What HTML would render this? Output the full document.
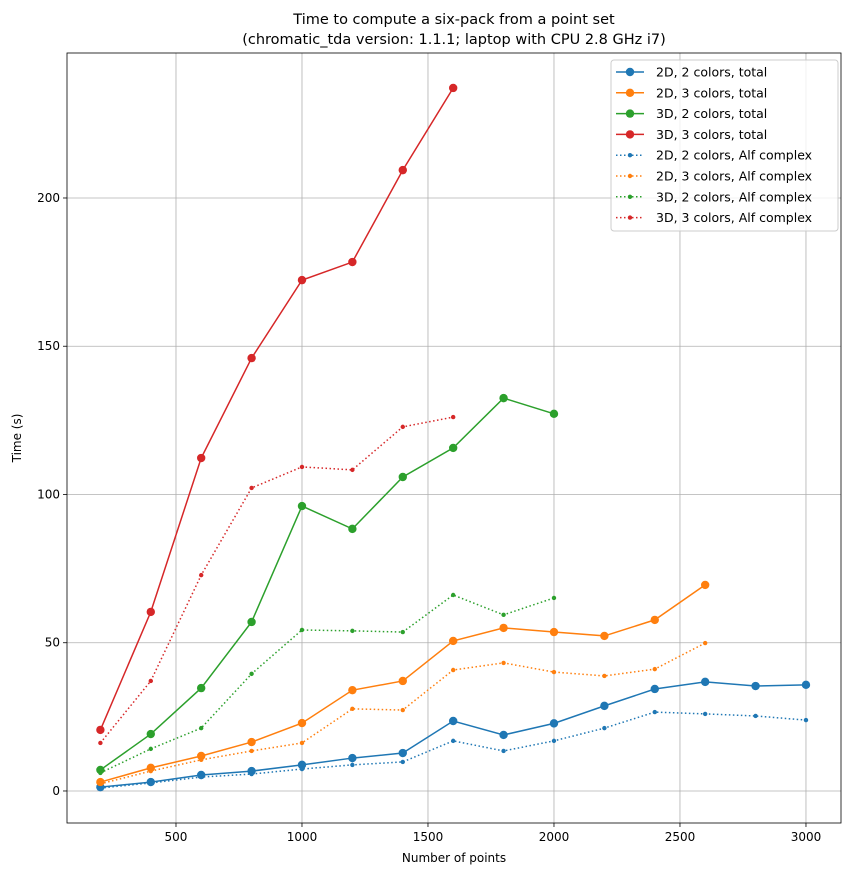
<!DOCTYPE html>
<html><head><meta charset="utf-8"><style>
body{margin:0;background:#fff}
svg{font-family:"DejaVu Sans","Liberation Sans",sans-serif}
</style></head><body>
<svg id="c" width="850" height="876" xmlns="http://www.w3.org/2000/svg"></svg>
<script>
const xs = [200,400,600,800,1000,1200,1400,1600,1800,2000,2200,2400,2600,2800,3000];
const d2c2Total = [1.3,3,5.4,6.7,8.8,11.1,12.8,23.6,18.9,22.8,28.7,34.4,36.8,35.4,35.8];
const d2c3Total = [3,7.8,11.8,16.5,22.9,34,37.1,50.6,55,53.6,52.3,57.7,69.5];
const d3c2Total = [7.1,19.2,34.7,57,96.1,88.4,105.9,115.7,132.5,127.2];
const d3c3Total = [20.6,60.4,112.3,146,172.3,178.4,209.4,237.1];
const d2c2Alf = [1,2.7,4.7,5.7,7.4,8.8,9.8,16.9,13.5,16.9,21.2,26.6,26,25.3,23.9];
const d2c3Alf = [2.4,6.7,10.5,13.5,16.2,27.7,27.3,40.8,43.2,40.1,38.8,41.1,49.9];
const d3c2Alf = [6.1,14.2,21.2,39.5,54.3,54,53.6,66.1,59.4,65.1];
const d3c3Alf = [16.2,37.1,72.8,102.2,109.3,108.3,122.8,126.1];
const xTicks = [500,1000,1500,2000,2500,3000];
const yTicks = [0,50,100,150,200];
const seriesNames = ["2D, 2 colors, total","2D, 3 colors, total","3D, 2 colors, total","3D, 3 colors, total","2D, 2 colors, Alf complex","2D, 3 colors, Alf complex","3D, 2 colors, Alf complex","3D, 3 colors, Alf complex"];

const L=67,R=841,T=53,B=823;
const xMin=67.5,xMax=3139,yMin=-10.8,yMax=248.9;
const X=v=>L+(v-xMin)/(xMax-xMin)*(R-L);
const Y=v=>B-(v-yMin)/(yMax-yMin)*(B-T);
const svg=document.getElementById('c');
const NS="http://www.w3.org/2000/svg";
function mk(tag,attrs,parent){const e=document.createElementNS(NS,tag);for(const k in attrs)e.setAttribute(k,attrs[k]);(parent||svg).appendChild(e);return e;}

const grid=mk('g',{});


xTicks.forEach(t=>{
  mk('line',{x1:X(t),x2:X(t),y1:T,y2:B,stroke:'#b0b0b0','stroke-width':0.8},grid);
  mk('line',{x1:X(t),x2:X(t),y1:B,y2:B+4,stroke:'#000','stroke-width':0.8});
  const tx=mk('text',{x:X(t),y:B+18,'font-size':12,'text-anchor':'middle'});
  
  
  tx.textContent=t;
});
yTicks.forEach(t=>{
  mk('line',{x1:L,x2:R,y1:Y(t),y2:Y(t),stroke:'#b0b0b0','stroke-width':0.8},grid);
  mk('line',{x1:L-4,x2:L,y1:Y(t),y2:Y(t),stroke:'#000','stroke-width':0.8});
  const tx=mk('text',{x:L-7,y:Y(t)+4,'font-size':12,'text-anchor':'end'});
  
  
  tx.textContent=t;
});

const colors=['#1f77b4','#ff7f0e','#2ca02c','#d62728'];
const all=[d2c2Total,d2c3Total,d3c2Total,d3c3Total,d2c2Alf,d2c3Alf,d3c2Alf,d3c3Alf];
all.forEach((arr,i)=>{
  const g=mk('g',{});
  
  
  const c=colors[i%4],dotted=i>=4;
  const pts=arr.map((v,j)=>X(xs[j])+','+Y(v)).join(' ');
  mk('polyline',{points:pts,fill:'none',stroke:c,'stroke-width':1.5,'stroke-dasharray':dotted?'1.5,2.5':'none'},g);
  arr.forEach((v,j)=>mk('circle',{cx:X(xs[j]),cy:Y(v),r:dotted?2.2:4.2,fill:c},g));
});

mk('rect',{x:L,y:T,width:R-L,height:B-T,fill:'none',stroke:'#000','stroke-width':0.8});

const t1=mk('text',{x:(L+R)/2,y:24,'font-size':14.5,'text-anchor':'middle'});


t1.textContent='Time to compute a six-pack from a point set';
const t2=mk('text',{x:(L+R)/2,y:44,'font-size':14.5,'text-anchor':'middle'});


t2.textContent='(chromatic_tda version: 1.1.1; laptop with CPU 2.8 GHz i7)';
const xl=mk('text',{x:(L+R)/2,y:862,'font-size':12,'text-anchor':'middle'});


xl.textContent='Number of points';
const yl=mk('text',{x:0,y:0,'font-size':12,'text-anchor':'middle',transform:'translate(21,'+((T+B)/2)+') rotate(-90)'});


yl.textContent='Time (s)';

const lg=mk('g',{});


mk('rect',{x:611,y:60,width:227,height:171,rx:3,fill:'#fff','fill-opacity':0.8,stroke:'#ccc'},lg);
seriesNames.forEach((n,i)=>{
  const y=72+i*20.8,c=colors[i%4],dotted=i>=4;
  const e=mk('g',{},lg);
  
  
  mk('line',{x1:616,x2:644,y1:y,y2:y,stroke:c,'stroke-width':1.5,'stroke-dasharray':dotted?'1.5,2.5':'none'},e);
  mk('circle',{cx:630,cy:y,r:dotted?2.2:4.2,fill:c},e);
  const tx=mk('text',{x:656,y:y+4.5,'font-size':12.5},e);
  tx.textContent=n;
});
</script>
</body></html>
